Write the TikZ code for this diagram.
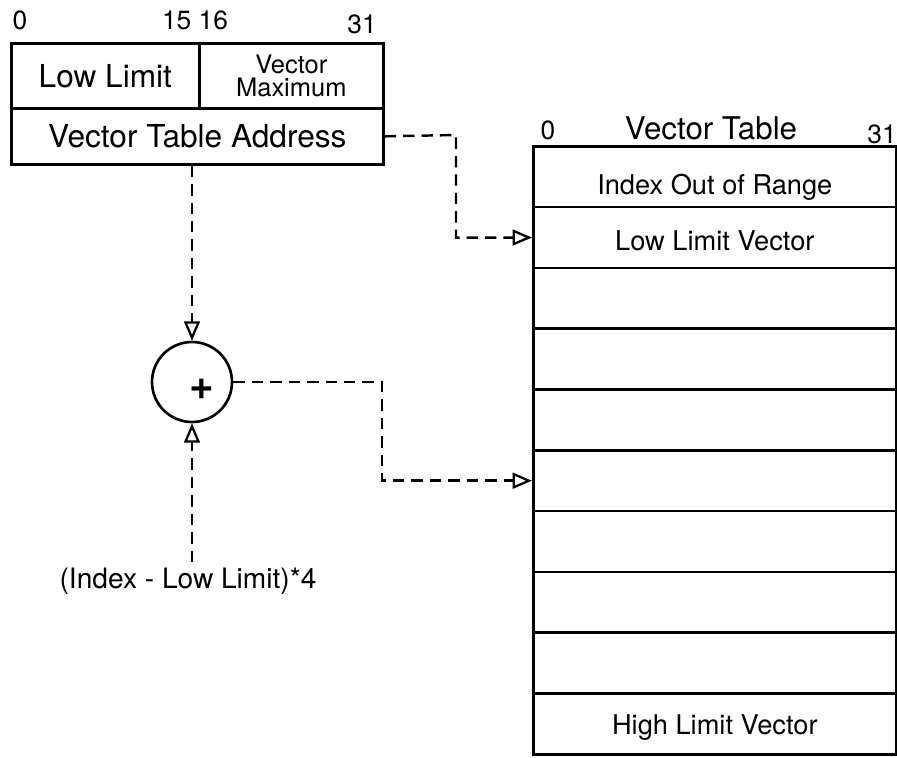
\documentclass[tikz,border=0pt]{standalone}
\usepackage{fontspec}
\setmainfont{TeX Gyre Heros}
\usepackage{tikz}
\usetikzlibrary{calc,arrows.meta,positioning}

\tikzset{
    cell/.style={draw, line width=1.5pt, inner sep=0pt, anchor=north west},
    link/.style={line width=1.4pt, dash pattern=on 6.5pt off 4pt, -{Triangle[open,length=11pt,width=9pt,line width=1.3pt]}},
    bitno/.style={font=\fontsize{15}{15}\selectfont, inner sep=0pt},
}

\begin{document}
\begin{tikzpicture}[x=0.02cm, y=-0.02cm]
    \useasboundingbox (0,0) rectangle (897,758);
    % register word
    \node[cell, minimum width=188*0.02cm, minimum height=65*0.02cm, font=\fontsize{18}{18}\selectfont] (lowlim) at (10,42) {Low Limit};
    \node[cell, minimum width=184*0.02cm, minimum height=65*0.02cm, font=\fontsize{14.5}{13}\selectfont, align=center] (vecmax) at (198,42) {Vector\\Maximum};
    \node[cell, minimum width=372*0.02cm, minimum height=56*0.02cm, font=\fontsize{18}{18}\selectfont] (vta) at (10,107) {Vector Table Address};
    \node[bitno] (b0) at (20,20) {0};
    \node[bitno] (b15) at (195,20) {15 16};
    \node[bitno] (b31) at (362,24) {31};

    % vector table
    \foreach \i in {0,...,9}
        \node[cell, minimum width=363*0.02cm, minimum height=60.8*0.02cm] (row\i) at (532,{145+60.8*\i}) {};
    \node[font=\fontsize{15.5}{15.5}\selectfont] (t0) at ([yshift=-11*0.02cm]row0) {Index Out of Range};
    \node[font=\fontsize{15.5}{15.5}\selectfont] (t1) at ([yshift=-3*0.02cm]row1) {Low Limit Vector};
    \node[font=\fontsize{15.5}{15.5}\selectfont] (t9) at ([yshift=-4*0.02cm]row9) {High Limit Vector};
    \node[font=\fontsize{17.8}{17.8}\selectfont, inner sep=0pt] (vtitle) at (711,128) {Vector Table};
    \node[bitno] (v0) at (548,130) {0};
    \node[bitno] (v31) at (882,134) {31};

    % adder
    \node[circle, draw, line width=1.5pt, minimum size=80*0.02cm, inner sep=0pt] (sum) at (192,382) {};
    \node[font=\fontsize{24}{24}\selectfont\bfseries, inner sep=0pt] (plus) at (202,389) {+};
    \node[font=\fontsize{16}{16}\selectfont, anchor=north] (idx) at (188,562) {(Index - Low Limit)*4};

    % connectors
    \coordinate (c1) at (456,135);
    \coordinate (c2) at (382,382);
    \draw[link] (vta.east) -- (c1) |- (row1.west);
    \draw[link] (sum.north |- vta.south) -- (sum.north);
    \draw[link] (idx.north -| sum.south) -- (sum.south);
    \draw[link] (sum.east) -- (c2) |- (row5.west);
\end{tikzpicture}
\end{document}
